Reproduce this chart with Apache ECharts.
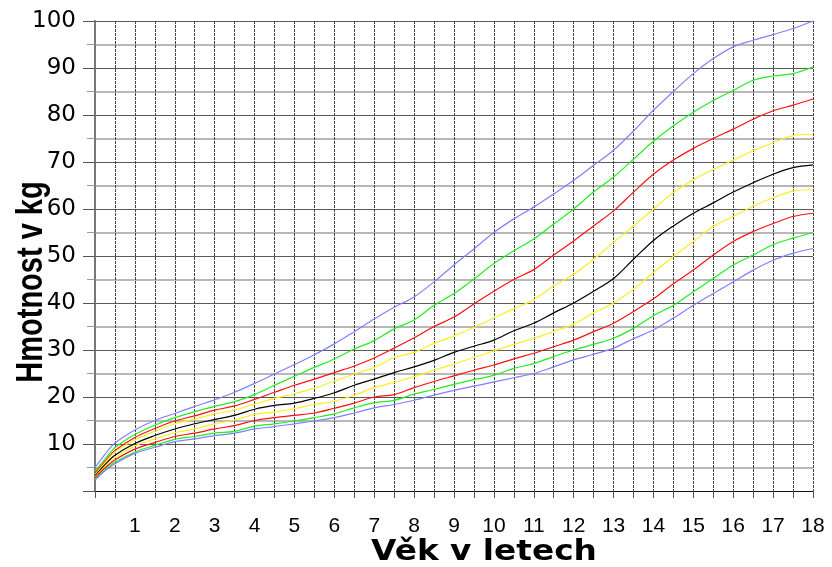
<!DOCTYPE html>
<html>
<head>
<meta charset="utf-8">
<script src="https://cdn.jsdelivr.net/npm/echarts@6/dist/echarts.min.js"></script>
<style>
html,body{margin:0;padding:0;background:#fff;}
#chart{width:832px;height:567px;}
</style>
</head>
<body>
<div id="chart"></div>
<script>
// Ages (years)
const ages = [0, 0.25, 0.5, 1, 1.5, 2, 2.5, 3, 3.5, 4, 4.5, 5, 5.5, 6, 6.5, 7, 7.5, 8, 8.5, 9, 9.5, 10, 10.5, 11, 11.5, 12, 12.5, 13, 13.5, 14, 14.5, 15, 15.5, 16, 16.5, 17, 17.5, 18];

// Weight curves (kg), from top to bottom
const blueTop = [5.0, 7.8, 10.2, 13.0, 15.0, 16.5, 18.0, 19.4, 21.0, 22.9, 24.9, 26.9, 29.0, 31.3, 33.9, 36.6, 39.1, 41.3, 44.5, 48.1, 51.5, 55.0, 57.9, 60.4, 63.2, 66.1, 69.3, 72.5, 76.6, 81.0, 85.0, 88.8, 92.0, 94.5, 95.9, 97.1, 98.4, 100];
const greenTop = [4.2, 6.8, 9.2, 12.0, 14.0, 15.6, 16.9, 18.0, 19.0, 20.5, 22.5, 24.4, 26.3, 28.1, 30.2, 32.0, 34.5, 36.4, 39.5, 42.0, 45.1, 48.4, 51.1, 53.6, 56.8, 60.0, 63.6, 66.8, 70.6, 74.4, 77.7, 80.6, 83.1, 85.2, 87.4, 88.3, 88.8, 90.2];
const redTop = [3.8, 6.3, 8.6, 11.4, 13.3, 14.9, 16.0, 17.2, 18.1, 19.5, 21.0, 22.5, 23.8, 25.2, 26.6, 28.3, 30.4, 32.6, 35.0, 37.0, 39.8, 42.5, 45.0, 47.1, 50.2, 53.2, 56.4, 59.6, 63.6, 67.4, 70.4, 72.9, 75.0, 77.0, 79.1, 80.9, 82.1, 83.4];
const yellowTop = [3.5, 6.0, 8.3, 10.9, 12.7, 14.3, 15.3, 16.4, 17.2, 18.5, 19.7, 20.7, 21.9, 23.4, 24.9, 26.3, 28.4, 29.5, 31.4, 33.0, 34.8, 36.8, 38.8, 40.7, 43.6, 46.1, 49.3, 52.9, 56.4, 60.0, 63.5, 66.2, 68.4, 70.4, 72.4, 74.1, 75.6, 75.9];
const blackMid = [3.2, 5.6, 7.6, 10.1, 11.8, 13.2, 14.3, 15.2, 16.1, 17.4, 18.2, 18.7, 19.7, 20.9, 22.5, 23.8, 25.2, 26.4, 27.8, 29.5, 30.8, 32.1, 34.1, 35.7, 37.9, 40.0, 42.5, 45.2, 49.3, 53.3, 56.4, 59.1, 61.3, 63.6, 65.6, 67.4, 68.8, 69.4];
const yellowLow = [3.0, 5.2, 7.1, 9.6, 11.1, 12.4, 13.2, 14.3, 15.1, 16.3, 16.8, 17.5, 18.4, 19.1, 20.4, 22.0, 23.1, 24.3, 25.7, 27.0, 28.4, 29.8, 31.2, 32.5, 33.9, 35.5, 37.9, 40.0, 42.9, 46.5, 49.9, 53.1, 56.3, 58.4, 60.6, 62.4, 63.8, 64.1];
const redLow = [2.8, 4.9, 6.6, 8.9, 10.3, 11.6, 12.3, 13.2, 13.9, 15.0, 15.6, 16.1, 16.6, 17.6, 18.7, 20.0, 20.5, 22.0, 23.3, 24.5, 25.7, 26.8, 28.1, 29.3, 30.7, 32.1, 33.9, 35.7, 38.2, 40.9, 44.1, 47.0, 50.2, 53.1, 55.2, 56.9, 58.4, 59.1];
const greenLow = [2.5, 4.5, 6.1, 8.3, 9.7, 11.0, 11.6, 12.3, 12.7, 13.8, 14.3, 14.9, 15.6, 16.4, 17.7, 18.8, 19.3, 20.6, 21.6, 22.7, 23.7, 24.6, 26.1, 27.1, 28.6, 30.0, 31.2, 32.5, 34.6, 37.3, 39.5, 42.4, 45.2, 48.1, 50.2, 52.4, 53.8, 55.0];
const blueLow = [2.3, 4.3, 5.8, 8.0, 9.3, 10.5, 11.1, 11.8, 12.3, 13.2, 13.7, 14.3, 14.9, 15.6, 16.6, 17.7, 18.4, 19.3, 20.4, 21.4, 22.3, 23.2, 24.1, 25.0, 26.4, 27.9, 29.1, 30.4, 32.4, 34.3, 36.8, 39.5, 42.0, 44.5, 47.0, 49.1, 50.6, 51.6];

const curves = [blueTop, greenTop, redTop, yellowTop, blackMid, yellowLow, redLow, greenLow, blueLow];
const curveColors = ['#8080ff', '#22ee22', '#ff1010', '#ffee22', '#000000', '#ffee22', '#ff1010', '#22ee22', '#8080ff'];

const xTitle = 'Věk v letech';
const yTitle = 'Hmotnost v kg';

const chart = echarts.init(document.getElementById('chart'));

const series = curves.map((vals, i) => ({
  type: 'line',
  data: ages.map((a, j) => [a, vals[j]]),
  showSymbol: false,
  smooth: 0.35,
  lineStyle: { color: curveColors[i], width: 1.2 },
  itemStyle: { color: curveColors[i] },
  z: 3,
  animation: false
}));

chart.setOption({
  animation: false,
  backgroundColor: '#ffffff',
  grid: { left: 95, right: 19, top: 21, bottom: 76 },
  xAxis: [{
    type: 'value', min: 0, max: 18, interval: 0.5,
    axisLine: { show: true, lineStyle: { color: '#888', width: 1 } },
    axisTick: { show: true, length: 7, lineStyle: { color: '#555' } },
    axisLabel: {
      formatter: v => (Number.isInteger(v) && v > 0) ? String(v) : '',
      color: '#000', fontSize: 21, fontFamily: 'Liberation Sans, Arial, sans-serif', margin: 25
    },
    splitLine: { show: true, lineStyle: { color: '#444', width: 1, type: [3, 1] } }
  }, {
    type: 'value', min: 0, max: 1, position: 'top',
    axisLine: { show: true, lineStyle: { color: '#111', width: 1 } },
    axisTick: { show: false }, axisLabel: { show: false }, splitLine: { show: false }
  }],
  yAxis: [{
    type: 'value', min: 0, max: 100, interval: 10,
    axisLine: { show: true, lineStyle: { color: '#222', width: 1 } },
    axisTick: { show: true, length: 12, lineStyle: { color: '#555' } },
    minorTick: { show: true, splitNumber: 2, length: 8, lineStyle: { color: '#999' } },
    axisLabel: {
      formatter: v => v === 0 ? '' : String(v),
      color: '#000', fontSize: 23, fontFamily: 'DejaVu Sans, sans-serif', margin: 19
    },
    splitLine: { show: true, lineStyle: { color: '#5a5a5a', width: 1 } },
    minorSplitLine: { show: true, lineStyle: { color: '#b8b8b8', width: 2 } }
  }, {
    type: 'value', min: 0, max: 1, position: 'right',
    axisLine: { show: true, lineStyle: { color: '#777', width: 2 } },
    axisTick: { show: false }, axisLabel: { show: false }, splitLine: { show: false }
  }],
  graphic: [{
    type: 'text', x: 484, y: 553, scaleX: 1.17, z: 10,
    style: { text: xTitle, font: 'bold 28px "DejaVu Sans", sans-serif', fill: '#000', align: 'center', verticalAlign: 'middle' }
  }, {
    type: 'text', x: 32, y: 282, rotation: Math.PI / 2, scaleY: 1.3, z: 10,
    style: { text: yTitle, font: 'bold 29px "Liberation Sans", Arial, sans-serif', fill: '#000', align: 'center', verticalAlign: 'middle' }
  }],
  series: series
});
</script>
</body>
</html>
